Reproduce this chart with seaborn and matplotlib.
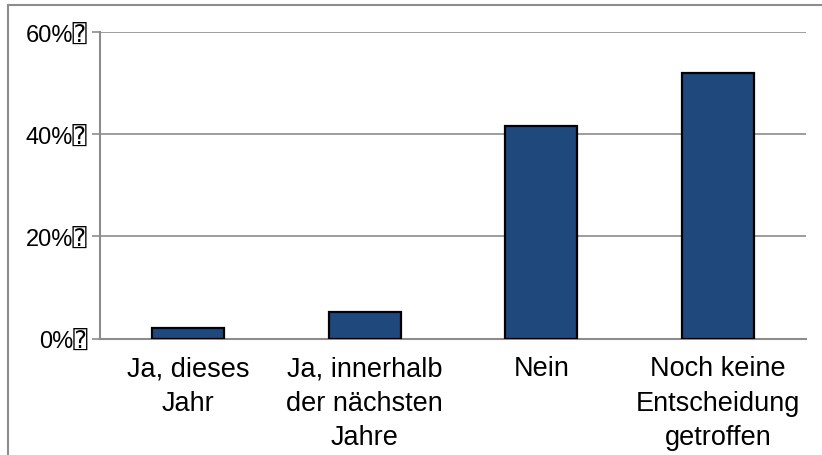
import matplotlib
matplotlib.use("Agg")
import matplotlib.pyplot as plt
import pandas as pd
import seaborn as sns
from matplotlib.patches import Rectangle

categories = [
    "Ja, dieses\nJahr",
    "Ja, innerhalb\nder nächsten\nJahre",
    "Nein",
    "Noch keine\nEntscheidung\ngetroffen",
]
shares = [2.0, 5.2, 41.6, 52.0]
y_ticks = [0, 20, 40, 60]
y_tick_labels = ["0%\u2370", "20%\u2370", "40%\u2370", "60%\u2370"]

df = pd.DataFrame({"category": categories, "share": shares})

sns.set_style("white")
plt.rcParams["font.family"] = ["Liberation Sans", "DejaVu Sans", "DejaVu Sans Mono"]
plt.rcParams["text.color"] = "black"

fig = plt.figure(figsize=(8.22, 4.56), dpi=100)
ax = fig.add_axes([100 / 822, 1 - 339.5 / 456, 706 / 822, 306.5 / 456])

sns.barplot(data=df, x="category", y="share", color="#1f497d", width=0.41,
            edgecolor="black", linewidth=1.6, saturation=1, ax=ax, zorder=3)

grey = "#8c8c8c"
ax.set_ylim(0, 60)
ax.set_xlim(-0.5, len(categories) - 0.5)
ax.set_yticks(y_ticks)
ax.set_yticklabels(y_tick_labels, fontsize=17, color="black")
ax.yaxis.grid(True, color=grey, linewidth=1.2, zorder=0)
ax.set_xticks([i - 0.5 for i in range(len(categories) + 1)], minor=True)
ax.set_xticks(range(len(categories)))
ax.set_xticklabels(categories, fontsize=19.5, linespacing=1.42, color="black")
ax.tick_params(axis="x", which="major", length=0, pad=12)
ax.tick_params(axis="x", which="minor", length=6, width=1.2, color=grey, direction="out")
ax.tick_params(axis="y", length=6, width=1.2, color=grey, direction="out", left=True, pad=3)
ax.set_xlabel("")
ax.set_ylabel("")
for side in ["top", "right"]:
    ax.spines[side].set_visible(False)
for side in ["left", "bottom"]:
    ax.spines[side].set_color(grey)
    ax.spines[side].set_linewidth(1.5)

fig.patches.append(Rectangle((8 / 822, -0.1), 1.2, (456 - 6) / 456 + 0.1,
                             transform=fig.transFigure, fill=False,
                             edgecolor=grey, linewidth=1.5))

fig.savefig("out.png", dpi=100)
